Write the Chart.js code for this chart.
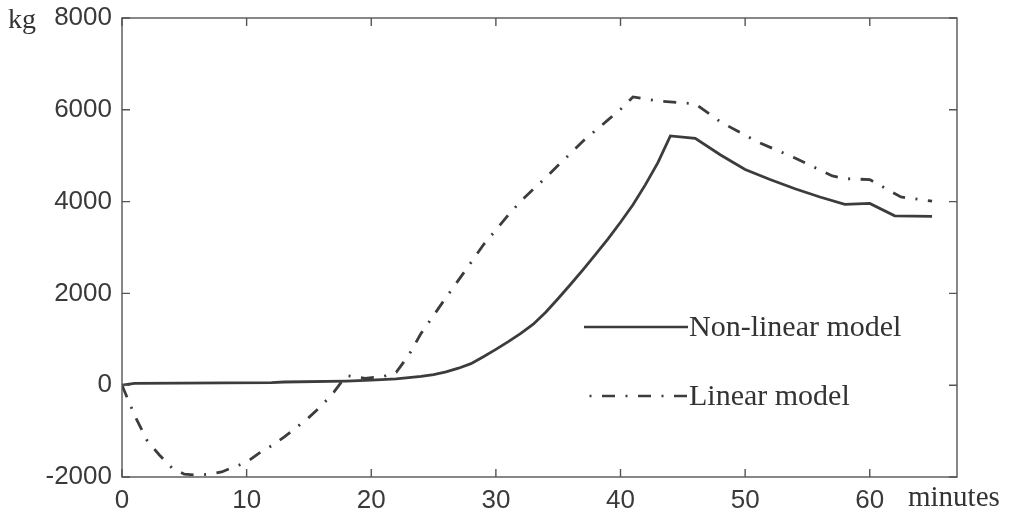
<!DOCTYPE html>
<html>
<head>
<meta charset="utf-8">
<script src="https://cdn.jsdelivr.net/npm/chart.js@4.4.0/dist/chart.umd.min.js"></script>
<style>
  html, body { margin: 0; padding: 0; background: #ffffff; }
  #wrap { width: 1011px; height: 516px; position: relative; }
</style>
</head>
<body>
<div id="wrap"><canvas id="c"></canvas></div>
<script>
// Time axis (minutes) and mass (kg) for each model
const minutesNonLinear = [0, 1, 12, 13, 18, 20, 22, 24, 25, 26, 27, 28, 29, 30, 31, 32, 33, 34, 35, 36, 37, 38, 39, 40, 41, 42, 43, 44, 46, 48, 50, 52, 54, 56, 58, 60, 62, 65];
const massNonLinear    = [0, 40, 55, 70, 90, 110, 140, 190, 230, 290, 370, 470, 620, 780, 950, 1130, 1330, 1590, 1890, 2200, 2520, 2850, 3190, 3550, 3930, 4370, 4850, 5430, 5380, 5020, 4700, 4480, 4280, 4100, 3940, 3960, 3690, 3680];

const minutesLinear = [0, 1, 2, 3, 4, 5, 6, 7, 8, 9, 10, 11, 12, 13, 14, 15, 16, 17, 18, 19.5, 21, 22, 23, 24, 25, 26, 27, 28, 29, 30, 31, 32, 33, 34, 35, 36, 37, 38, 39, 40, 41, 43, 46, 48, 51, 54, 57, 58, 60, 62.5, 65];
const massLinear    = [0, -650, -1200, -1520, -1800, -1940, -1960, -1940, -1890, -1780, -1680, -1480, -1320, -1130, -920, -700, -450, -150, 210, 150, 190, 280, 650, 1130, 1520, 1910, 2290, 2670, 3060, 3380, 3710, 4010, 4270, 4520, 4790, 5050, 5320, 5550, 5780, 6010, 6280, 6190, 6130, 5740, 5300, 4950, 4560, 4500, 4480, 4100, 4010];

const seriesLabels = ['Non-linear model', 'Linear model'];
const xTickValues = [0, 10, 20, 30, 40, 50, 60];
const yTickValues = [-2000, 0, 2000, 4000, 6000, 8000];

const INK = '#3c3c3c';
const FRAME = '#555555';
const DASH_DOT = [13, 10.5, 2, 10.5];

function pairs(xs, ys) { return xs.map((x, i) => ({ x: x, y: ys[i] })); }

// Box around the plot with inward tick marks on all four sides
const framePlugin = {
  id: 'frame',
  afterDraw(chart) {
    const { ctx, chartArea: a, scales } = chart;
    const len = 8;
    ctx.save();
    ctx.strokeStyle = FRAME;
    ctx.lineWidth = 1.4;
    ctx.strokeRect(a.left, a.top, a.right - a.left, a.bottom - a.top);
    ctx.beginPath();
    xTickValues.forEach(v => {
      const px = scales.x.getPixelForValue(v);
      ctx.moveTo(px, a.bottom); ctx.lineTo(px, a.bottom - len);
      ctx.moveTo(px, a.top);    ctx.lineTo(px, a.top + len);
    });
    yTickValues.forEach(v => {
      const py = scales.y.getPixelForValue(v);
      ctx.moveTo(a.left, py);  ctx.lineTo(a.left + len, py);
      ctx.moveTo(a.right, py); ctx.lineTo(a.right - len, py);
    });
    ctx.stroke();

    // unit labels
    ctx.fillStyle = '#333333';
    ctx.textAlign = 'left';
    ctx.textBaseline = 'alphabetic';
    ctx.font = '28px "Liberation Serif", "Times New Roman", serif';
    ctx.fillText('kg', 8, 28);
    ctx.font = '29px "Liberation Serif", "Times New Roman", serif';
    ctx.fillText('minutes', 908, 506);
    ctx.restore();
  }
};

// Legend drawn inside the plot: line sample followed by the series name
const legendPlugin = {
  id: 'innerLegend',
  afterDraw(chart) {
    const { ctx } = chart;
    const rows = [327, 396];
    ctx.save();
    chart.data.datasets.forEach((ds, i) => {
      const y = rows[i];
      ctx.beginPath();
      ctx.strokeStyle = ds.borderColor;
      ctx.lineWidth = 2.6;
      ctx.lineCap = 'butt';
      ctx.setLineDash(ds.borderDash || []);
      ctx.lineDashOffset = ds.borderDash ? 18 : 0;
      ctx.moveTo(584, y);
      ctx.lineTo(688, y);
      ctx.stroke();
      ctx.setLineDash([]);
      ctx.fillStyle = '#333333';
      ctx.font = '30px "Liberation Serif", "Times New Roman", serif';
      ctx.textAlign = 'left';
      ctx.textBaseline = 'middle';
      ctx.fillText(ds.label, 689, y + 1);
    });
    ctx.restore();
  }
};

const tickFont = { family: '"Liberation Sans", Arial, sans-serif', size: 26 };

new Chart(document.getElementById('c'), {
  type: 'line',
  data: {
    datasets: [
      {
        label: seriesLabels[0],
        data: pairs(minutesNonLinear, massNonLinear),
        borderColor: INK,
        borderWidth: 2.8,
        pointRadius: 0,
        tension: 0,
        fill: false
      },
      {
        label: seriesLabels[1],
        data: pairs(minutesLinear, massLinear),
        borderColor: INK,
        borderWidth: 2.8,
        borderDash: DASH_DOT,
        borderCapStyle: 'butt',
        pointRadius: 0,
        tension: 0,
        fill: false
      }
    ]
  },
  options: {
    responsive: true,
    maintainAspectRatio: false,
    animation: false,
    events: [],
    layout: { padding: { left: 0, top: 18, right: 54, bottom: 0 } },
    plugins: { legend: { display: false }, tooltip: { enabled: false } },
    scales: {
      x: {
        type: 'linear',
        min: 0,
        max: 67,
        afterFit(scale) {
          scale.height = 39;
          scale.paddingLeft = 0;
          scale.paddingRight = 0;
        },
        afterBuildTicks(scale) { scale.ticks = xTickValues.map(v => ({ value: v })); },
        grid: { display: false, drawTicks: false },
        border: { display: false },
        ticks: {
          padding: 8,
          color: '#3a3a3a',
          font: tickFont,
          maxRotation: 0,
          callback: v => String(v)
        }
      },
      y: {
        type: 'linear',
        min: -2000,
        max: 8000,
        afterFit(scale) {
          scale.width = 122;
          scale.paddingTop = 0;
          scale.paddingBottom = 0;
        },
        afterBuildTicks(scale) { scale.ticks = yTickValues.map(v => ({ value: v })); },
        grid: { display: false, drawTicks: false },
        border: { display: false },
        ticks: {
          padding: 10,
          color: '#3a3a3a',
          font: tickFont,
          callback: v => String(v)
        }
      }
    }
  },
  plugins: [framePlugin, legendPlugin]
});
</script>
</body>
</html>
